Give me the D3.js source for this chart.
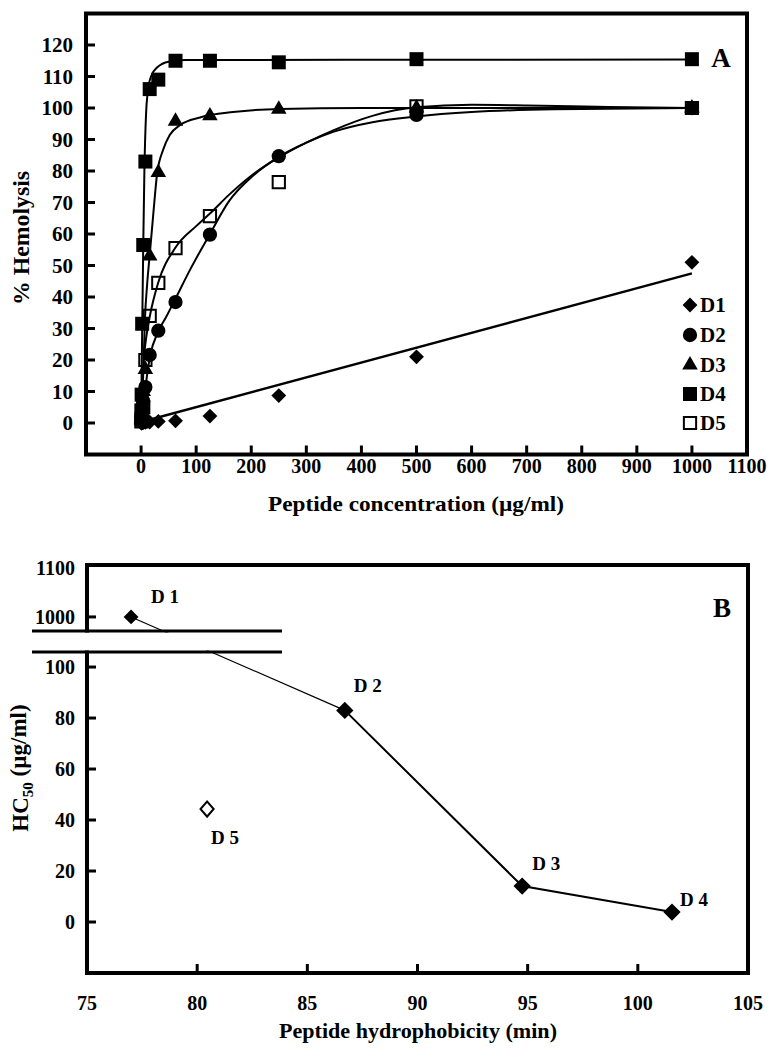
<!DOCTYPE html>
<html><head><meta charset="utf-8">
<script src="https://cdn.jsdelivr.net/npm/d3@7"></script>
<style>
html,body{margin:0;padding:0;background:#fff;}
text{font-family:"Liberation Serif","Times New Roman",serif;font-weight:bold;fill:#000;}
</style></head>
<body><svg id="c" width="769" height="1050"></svg>
<script>
// ---------- Panel A data ----------
const conc = [0.49, 0.98, 1.95, 3.91, 7.81, 15.63, 31.25, 62.5, 125, 250, 500, 1000];
const D1 = [0, 0, 0.1, 0.1, 0.2, 0.3, 0.5, 0.7, 2.2, 8.7, 21, 51];
const D2 = [0.5, 1, 3, 7, 11.4, 21.6, 29.3, 38.4, 59.8, 84.7, 97.8, 100];
const D3 = [1, 3, 6, 10, 17, 53, 79.5, 95.8, 97.5, 99.6, 100, 100];
const D4 = [4, 9, 31.5, 56.5, 83, 106, 109, 115, 115, 114.5, 115.5, 115.5];
const D5 = [0.5, 1.5, 3, 5, 20, 34, 44.5, 55.5, 65.7, 76.5, 100.5, 100];
// fitted curves: [concentration, % hemolysis]
const fitD1 = [[0, 0.3], [1000, 47.5]];
const fitD2 = [[0,0],[4,6],[8,11.5],[16,21],[31,29],[45,33.5],[62.5,39.5],[90,49],[125,60],[160,70.5],[200,78],[250,84.5],[300,89],[350,92.5],[420,95.5],[500,97.3],[600,98.7],[750,99.6],[1000,100]];
const fitD3 = [[0,0],[4,16],[7,33],[11,44],[16,54],[22,66],[29,79],[40,86.7],[52,91.4],[71,94.6],[107,97],[167,98.7],[252,99.7],[400,100],[1000,100]];
const fitD4 = [[0,0],[2,30],[4,57],[6,80],[9,98],[12,105],[18,110],[30,113],[50,114.7],[80,115.2],[1000,115.4]];
const fitD5 = [[0,0],[1,6],[2.5,12],[5,20],[10,28],[16,34],[31,44.5],[62.5,55.7],[100,62.5],[125,66.5],[160,72.5],[200,78.5],[250,84.3],[300,89],[350,93],[420,97.5],[500,100.2],[600,101],[700,100.8],[850,100.3],[1000,100]];
const seriesNames = ["D1", "D2", "D3", "D4", "D5"];
const xTicksA = [0,100,200,300,400,500,600,700,800,900,1000,1100];
const yTicksA = [0,10,20,30,40,50,60,70,80,90,100,110,120];

// ---------- Panel B data ----------
const hydro = [77.0, 86.7, 94.75, 101.55];
const hc50 = [1000, 83, 14.1, 3.9];
const hydroLabels = ["D 1", "D 2", "D 3", "D 4"];
const d5Hydro = 80.45, d5HC = 44.3, d5Label = "D 5";
const xTicksB = [75,80,85,90,95,100,105];
const yTicksB = [0,20,40,60,80,100,1000,1100];

const svg = d3.select("#c");

// ================= Panel A =================
const xA = d3.scaleLinear().domain([-100, 1100]).range([86, 747]);
const yA = d3.scaleLinear().domain([-10, 130]).range([454.5, 13.5]);
const gA = svg.append("g");

gA.selectAll(".ty").data(yTicksA).join("line")
  .attr("x1", xA(-100)).attr("x2", xA(-100) + 9)
  .attr("y1", d => yA(d)).attr("y2", d => yA(d))
  .attr("stroke", "#000").attr("stroke-width", 3);
gA.selectAll(".tx").data(xTicksA.filter(d => d < 1100)).join("line")
  .attr("x1", d => xA(d)).attr("x2", d => xA(d))
  .attr("y1", yA(-10)).attr("y2", yA(-10) - 9)
  .attr("stroke", "#000").attr("stroke-width", 3);
gA.append("rect").attr("x", xA(-100)).attr("y", yA(130))
  .attr("width", xA(1100) - xA(-100)).attr("height", yA(-10) - yA(130))
  .attr("fill", "none").attr("stroke", "#000").attr("stroke-width", 4);

gA.selectAll(".ly").data(yTicksA).join("text")
  .attr("x", 73).attr("y", d => yA(d)).attr("dy", "0.35em")
  .attr("text-anchor", "end").attr("font-size", 21).text(d => d);
gA.selectAll(".lx").data(xTicksA).join("text")
  .attr("x", d => xA(d)).attr("y", 466).attr("dy", "0.35em")
  .attr("text-anchor", "middle").attr("font-size", 20).text(d => d);
gA.append("text").attr("x", 416).attr("y", 503).attr("dy", "0.35em")
  .attr("text-anchor", "middle").attr("font-size", 22)
  .attr("textLength", 296).attr("lengthAdjust", "spacingAndGlyphs")
  .text("Peptide concentration (µg/ml)");
gA.append("text").attr("transform", "translate(21,238) rotate(-90)").attr("dy", "0.35em")
  .attr("text-anchor", "middle").attr("font-size", 23)
  .attr("textLength", 134).attr("lengthAdjust", "spacingAndGlyphs")
  .text("% Hemolysis");
gA.append("text").attr("x", 721).attr("y", 67).attr("text-anchor", "middle")
  .attr("font-size", 27).text("A");

const lineA = d3.line().x(d => xA(d[0])).y(d => yA(d[1])).curve(d3.curveMonotoneX);
const fits = [fitD1, fitD2, fitD3, fitD4, fitD5];
fits.forEach((f, i) => {
  gA.append("path").attr("d", lineA(f)).attr("fill", "none")
    .attr("stroke", "#000").attr("stroke-width", i === 0 ? 2.5 : 2);
});

const shapes = [
  {type: d3.symbolSquare, size: 110, rot: 45, fill: "#000"},
  {type: d3.symbolCircle, size: 160, rot: 0, fill: "#000"},
  {type: d3.symbolTriangle, size: 105, rot: 0, fill: "#000"},
  {type: d3.symbolSquare, size: 196, rot: 0, fill: "#000"},
  {type: d3.symbolSquare, size: 150, rot: 0, fill: "none"}
];
const allSeries = [D1, D2, D3, D4, D5];
allSeries.forEach((vals, i) => {
  const s = shapes[i];
  const sym = d3.symbol().type(s.type).size(s.size);
  gA.append("g").selectAll("path").data(vals.map((v, j) => [conc[j], v])).join("path")
    .attr("d", sym)
    .attr("transform", d => `translate(${xA(d[0])},${yA(d[1])}) rotate(${s.rot})`)
    .attr("fill", s.fill).attr("stroke", "#000").attr("stroke-width", s.fill === "none" ? 2 : 0);
});

const legY = [305, 335, 365, 394, 423];
seriesNames.forEach((n, i) => {
  const s = shapes[i];
  gA.append("path").attr("d", d3.symbol().type(s.type).size(s.size)())
    .attr("transform", `translate(690,${legY[i]}) rotate(${s.rot})`)
    .attr("fill", s.fill).attr("stroke", "#000").attr("stroke-width", s.fill === "none" ? 2 : 0);
  gA.append("text").attr("x", 700).attr("y", legY[i]).attr("dy", "0.35em")
    .attr("font-size", 21).text(n);
});

// ================= Panel B =================
const xB = d3.scaleLinear().domain([75, 105]).range([87, 748]);
const yB = d3.scaleLinear().domain([-20, 105.9, 972.9, 1100]).range([973, 652, 631, 565]);
const gB = svg.append("g");

gB.selectAll(".ty").data(yTicksB.filter(d => d < 1100)).join("line")
  .attr("x1", xB(75)).attr("x2", xB(75) + 9)
  .attr("y1", d => yB(d)).attr("y2", d => yB(d))
  .attr("stroke", "#000").attr("stroke-width", 3);
gB.selectAll(".tx").data(xTicksB.filter(d => d > 75 && d < 105)).join("line")
  .attr("x1", d => xB(d)).attr("x2", d => xB(d))
  .attr("y1", yB(-20)).attr("y2", yB(-20) - 9)
  .attr("stroke", "#000").attr("stroke-width", 3);
gB.append("rect").attr("x", xB(75)).attr("y", yB(1100))
  .attr("width", xB(105) - xB(75)).attr("height", yB(-20) - yB(1100))
  .attr("fill", "none").attr("stroke", "#000").attr("stroke-width", 4);

const pts = hydro.map((h, i) => [xB(h), yB(hc50[i])]);
gB.append("path").attr("d", d3.line()(pts.slice(0, 2))).attr("fill", "none")
  .attr("stroke", "#000").attr("stroke-width", 1.2);
gB.append("path").attr("d", d3.line()(pts.slice(1))).attr("fill", "none")
  .attr("stroke", "#000").attr("stroke-width", 2);

gB.append("rect").attr("x", 30).attr("y", yB(972.9) + 1.5).attr("width", 254)
  .attr("height", yB(105.9) - yB(972.9) - 3).attr("fill", "#fff");
[972.9, 105.9].forEach(v => {
  gB.append("line").attr("x1", 32).attr("x2", 282).attr("y1", yB(v)).attr("y2", yB(v))
    .attr("stroke", "#000").attr("stroke-width", 3);
});

gB.selectAll(".m").data(hydro.map((h, i) => [h, hc50[i]])).join("path")
  .attr("d", (d, i) => d3.symbol().type(d3.symbolSquare).size(i === 0 ? 110 : 150)())
  .attr("transform", d => `translate(${xB(d[0])},${yB(d[1])}) rotate(45)`)
  .attr("fill", "#000");
gB.append("path").attr("d", d3.symbol().type(d3.symbolSquare).size(95)())
  .attr("transform", `translate(${xB(d5Hydro)},${yB(d5HC)}) scale(0.95,1.1) rotate(45)`)
  .attr("fill", "#fff").attr("stroke", "#000").attr("stroke-width", 2);

const labOff = [[34, -21], [23, -25], [24, -23], [22, -13]];
hydro.forEach((h, i) => {
  gB.append("text").attr("x", xB(h) + labOff[i][0]).attr("y", yB(hc50[i]) + labOff[i][1])
    .attr("dy", "0.35em").attr("text-anchor", "middle").attr("font-size", 19).text(hydroLabels[i]);
});
gB.append("text").attr("x", xB(d5Hydro) + 18).attr("y", yB(d5HC) + 28)
  .attr("dy", "0.35em").attr("text-anchor", "middle").attr("font-size", 19).text(d5Label);

gB.selectAll(".ly").data(yTicksB).join("text")
  .attr("x", 75).attr("y", d => d === 1100 ? yB(d) + 3 : yB(d)).attr("dy", "0.35em")
  .attr("text-anchor", "end").attr("font-size", 20).text(d => d);
gB.selectAll(".lx").data(xTicksB).join("text")
  .attr("x", d => xB(d)).attr("y", 1003).attr("dy", "0.35em")
  .attr("text-anchor", "middle").attr("font-size", 20).text(d => d);
gB.append("text").attr("x", 418).attr("y", 1030).attr("dy", "0.35em")
  .attr("text-anchor", "middle").attr("font-size", 22)
  .attr("textLength", 278).attr("lengthAdjust", "spacingAndGlyphs")
  .text("Peptide hydrophobicity (min)");
const yt = gB.append("text").attr("transform", "translate(20,768) rotate(-90)").attr("dy", "0.35em")
  .attr("text-anchor", "middle").attr("font-size", 23);
yt.append("tspan").text("HC");
yt.append("tspan").attr("font-size", 15).attr("dy", "0.3em").text("50");
yt.append("tspan").attr("dy", "-0.3em").text(" (µg/ml)");
gB.append("text").attr("x", 722).attr("y", 617).attr("text-anchor", "middle")
  .attr("font-size", 27).text("B");
</script></body></html>
